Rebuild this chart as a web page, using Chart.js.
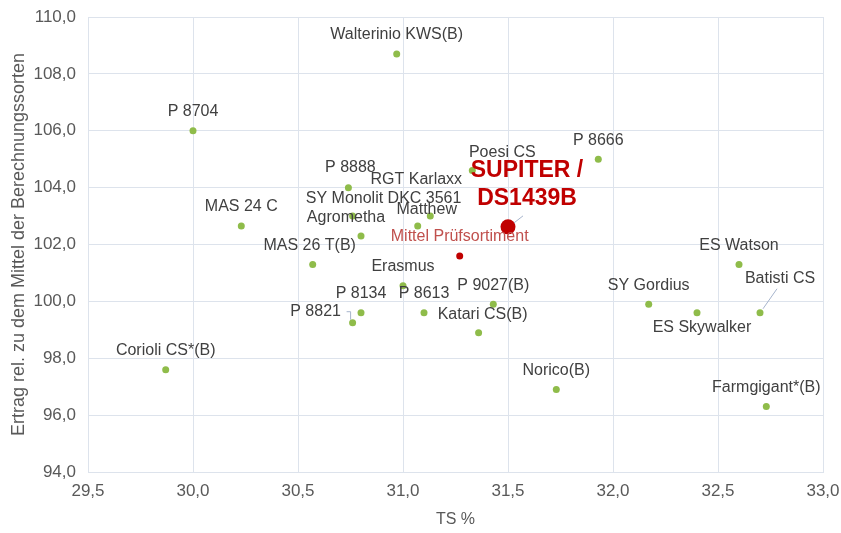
<!DOCTYPE html>
<html>
<head>
<meta charset="utf-8">
<script src="https://cdn.jsdelivr.net/npm/chart.js@4"></script>
<style>
  body { margin: 0; background: #fff; }
  #wrap { width: 841px; height: 533px; }
</style>
</head>
<body>
<div id="wrap"><canvas id="scatterChart"></canvas></div>
<script>
// Sorten, TS % und Ertrag relativ
const names = ['Walterinio KWS(B)', 'P 8704', 'P 8666', 'Poesi CS', 'P 8888', 'RGT Karlaxx',
    'SY Monolit DKC 3561', 'Matthew', 'Agrometha', 'MAS 24 C', 'MAS 26 T(B)', 'Erasmus',
    'P 8134', 'P 8613', 'P 9027(B)', 'P 8821', 'Katari CS(B)', 'Corioli CS*(B)', 'Norico(B)',
    'SY Gordius', 'ES Skywalker', 'ES Watson', 'Batisti CS', 'Farmgigant*(B)'];
const tsValues = [30.97, 30.00, 31.93, 31.33, 30.74, 31.13,
    30.76, 31.07, 30.80, 30.23, 30.57, 31.00,
    30.80, 31.10, 31.43, 30.76, 31.36, 29.87, 31.73,
    32.17, 32.40, 32.60, 32.70, 32.73];
const yieldValues = [108.7, 106.0, 105.0, 104.6, 104.0, 103.0,
    103.0, 102.65, 102.3, 102.65, 101.3, 100.55,
    99.6, 99.6, 99.9, 99.25, 98.9, 97.6, 96.9,
    99.9, 99.6, 101.3, 99.6, 96.3];

const meanName = 'Mittel Prüfsortiment';
const meanTs = [31.27];
const meanYield = [101.6];

const newName = ['SUPITER /', 'DS1439B'];
const newTs = [31.50];
const newYield = [102.62];

const xTicks = [29.5, 30.0, 30.5, 31.0, 31.5, 32.0, 32.5, 33.0];
const yTicks = [94, 96, 98, 100, 102, 104, 106, 108, 110];

// label placement relative to the point (px)
const labelOffsets = {
    'Poesi CS': [30, -18], 'RGT Karlaxx': [-14, -36], 'SY Monolit DKC 3561': [31, -17],
    'Matthew': [9, -16], 'Agrometha': [-15, -18], 'MAS 26 T(B)': [-3, -19],
    'P 8821': [-37, -11], 'Katari CS(B)': [4, -18], 'ES Skywalker': [5, 15],
    'Batisti CS': [20, -34], 'P 8888': [2, -20]
};
const leaderLines = { 'P 8821': true, 'Batisti CS': true };

const toPoints = (xs, ys) => xs.map((x, i) => ({ x: x, y: ys[i] }));
const fmt = v => v.toFixed(1).replace('.', ',');

const labelPlugin = {
    id: 'pointLabels',
    afterDatasetsDraw(chart) {
        const ctx = chart.ctx;
        ctx.save();
        ctx.textAlign = 'center';
        ctx.textBaseline = 'middle';
        // varieties
        const pts = chart.getDatasetMeta(0).data;
        ctx.font = '16px "Liberation Sans", Arial, sans-serif';
        pts.forEach((p, i) => {
            const off = labelOffsets[names[i]] || [0, -19];
            const lx = p.x + off[0], ly = p.y + off[1];
            if (leaderLines[names[i]]) {
                ctx.strokeStyle = '#a6b4cc';
                ctx.lineWidth = 1;
                ctx.beginPath();
                if (names[i] === 'P 8821') {
                    ctx.moveTo(lx + 31, ly);
                    ctx.lineTo(lx + 35, ly);
                    ctx.lineTo(lx + 35, ly + 8);
                } else {
                    ctx.moveTo(lx - 3, ly + 10);
                    ctx.lineTo(p.x + 3, p.y - 4);
                }
                ctx.stroke();
            }
            ctx.fillStyle = '#404040';
            ctx.fillText(names[i], lx, ly);
        });
        // mean
        const m = chart.getDatasetMeta(1).data[0];
        ctx.fillStyle = '#c0504d';
        ctx.fillText(meanName, m.x, m.y - 19);
        // new variety
        const n = chart.getDatasetMeta(2).data[0];
        ctx.strokeStyle = '#a6b4cc';
        ctx.beginPath();
        ctx.moveTo(n.x + 6, n.y - 4);
        ctx.lineTo(n.x + 15, n.y - 11);
        ctx.stroke();
        ctx.fillStyle = '#c00000';
        ctx.font = 'bold 23px "Liberation Sans", Arial, sans-serif';
        ctx.fillText(newName[0], n.x + 19, n.y - 56);
        ctx.fillText(newName[1], n.x + 19, n.y - 28);
        ctx.restore();
    }
};

const tickFont = { family: '"Liberation Sans", Arial, sans-serif', size: 17 };

const chart = new Chart(document.getElementById('scatterChart').getContext('2d'), {
    type: 'scatter',
    data: {
        datasets: [{
            label: 'Sorten',
            data: toPoints(tsValues, yieldValues),
            backgroundColor: '#8fbc4a',
            borderWidth: 0,
            pointRadius: 3.5
        }, {
            label: meanName,
            data: toPoints(meanTs, meanYield),
            backgroundColor: '#c00000',
            borderWidth: 0,
            pointRadius: 3.5
        }, {
            label: newName.join(' '),
            data: toPoints(newTs, newYield),
            backgroundColor: '#c00000',
            borderWidth: 0,
            pointRadius: 7.5
        }]
    },
    options: {
        responsive: true,
        maintainAspectRatio: false,
        animation: false,
        layout: { padding: { left: 0, right: 18, top: 17, bottom: 0 } },
        plugins: {
            legend: { display: false },
            tooltip: { enabled: false }
        },
        scales: {
            x: {
                type: 'linear',
                min: xTicks[0],
                max: xTicks[xTicks.length - 1],
                afterBuildTicks: axis => { axis.ticks = xTicks.map(v => ({ value: v })); },
                afterFit: axis => {
                    axis.height = 61;
                    axis.paddingLeft = 0;
                    axis.paddingRight = 0;
                },
                grid: { color: '#dde3ec', drawTicks: false },
                border: { color: '#dde3ec' },
                ticks: { font: tickFont, color: '#595959', padding: 9, callback: v => fmt(v) },
                title: { display: true, text: 'TS %', font: { family: tickFont.family, size: 16 }, color: '#595959', padding: { top: 4 } }
            },
            y: {
                type: 'linear',
                min: yTicks[0],
                max: yTicks[yTicks.length - 1],
                afterBuildTicks: axis => { axis.ticks = yTicks.map(v => ({ value: v })); },
                afterFit: axis => {
                    axis.width = 88;
                    axis.paddingTop = 0;
                    axis.paddingBottom = 0;
                },
                grid: { color: '#dde3ec', drawTicks: false },
                border: { color: '#dde3ec' },
                ticks: { font: tickFont, color: '#595959', padding: 12, callback: v => fmt(v) },
                title: { display: true, text: 'Ertrag rel. zu dem Mittel der Berechnungssorten', font: { family: tickFont.family, size: 18 }, color: '#595959', padding: { top: 8, bottom: 0 } }
            }
        }
    },
    plugins: [labelPlugin]
});
</script>
</body>
</html>
